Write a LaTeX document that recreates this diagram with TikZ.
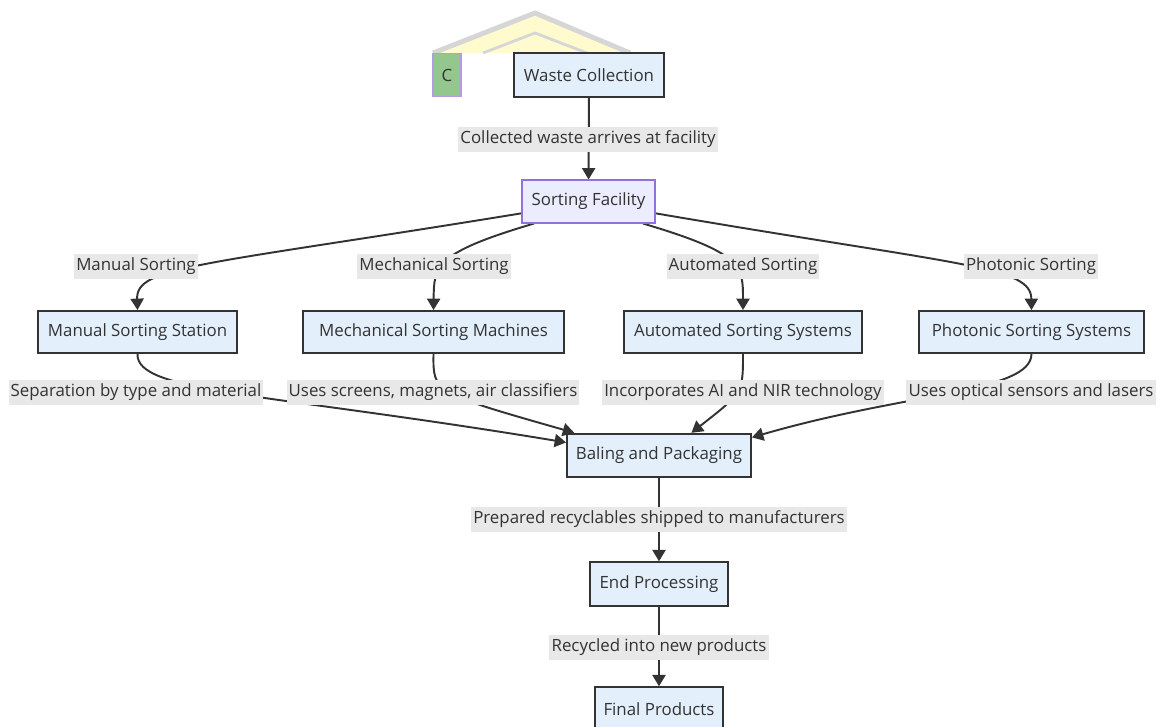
\documentclass[tikz,border=0pt]{standalone}
\usepackage{fontspec}
\setmainfont{Open Sans}
\usetikzlibrary{arrows.meta,backgrounds}
\definecolor{ink}{HTML}{333333}
\definecolor{boxblue}{HTML}{E4EFFC}
\definecolor{lavender}{HTML}{ECECFF}
\definecolor{purpleline}{HTML}{9370DB}
\definecolor{tagfill}{HTML}{93C78E}
\definecolor{lblgray}{HTML}{E8E8E8}
\definecolor{roofgray}{HTML}{D6D6D6}
\definecolor{roofyellow}{HTML}{FFFBCF}

\begin{document}
\begin{tikzpicture}[x=0.02cm, y=-0.02cm, >={Triangle[length=6.5pt,width=7.5pt]},
    box/.style={draw=ink, line width=1.1pt, fill=boxblue, minimum height=0.87cm, inner sep=0pt, text=ink, font=\fontsize{9.6}{11}\selectfont},
    facility/.style={box, draw=purpleline, line width=0.6pt, fill=lavender},
    tagbox/.style={box, draw=purpleline!70, line width=0.6pt, fill=tagfill, minimum width=0.56cm},
    lbl/.style={fill=lblgray, inner xsep=1.2pt, inner ysep=0pt, minimum height=0.5cm, text=ink, font=\fontsize{9.6}{11}\selectfont},
    flow/.style={draw=ink, line width=1.1pt}]
    \useasboundingbox (0,0) rectangle (1171,727);
    % Top row
    \node[tagbox] (tag) at (447,75) {C};
    \node[box, minimum width=3.0cm] (collect) at (589,75) {Waste Collection};
    \node[lbl] (arrive) at (588,139) {Collected waste arrives at facility};
    \node[facility, minimum width=2.66cm, minimum height=0.86cm] (facil) at (588.5,201.5) {Sorting Facility};
    % Sorting methods
    \node[lbl] (manual) at (136,266) {Manual Sorting};
    \node[lbl] (mech) at (434,266) {Mechanical Sorting};
    \node[lbl] (auto) at (743,266) {Automated Sorting};
    \node[lbl] (photo) at (1031,266) {Photonic Sorting};
    \node[box, minimum width=3.98cm, minimum height=0.84cm] (station) at (137.5,332) {Manual Sorting Station};
    \node[box, minimum width=5.22cm, minimum height=0.84cm] (machines) at (433.5,332) {Mechanical Sorting Machines};
    \node[box, minimum width=4.76cm, minimum height=0.84cm] (autosys) at (743,332) {Automated Sorting Systems};
    \node[box, minimum width=4.5cm, minimum height=0.84cm] (photosys) at (1031.5,332) {Photonic Sorting Systems};
    \node[lbl] (separate) at (136,392.5) {Separation by type and material};
    \node[lbl] (screens) at (433,392.5) {Uses screens, magnets, air classifiers};
    \node[lbl] (ainir) at (743,392.5) {Incorporates AI and NIR technology};
    \node[lbl] (optical) at (1031,392.5) {Uses optical sensors and lasers};
    % Bottom chain
    \node[box, minimum width=3.68cm] (baling) at (659,455.5) {Baling and Packaging};
    \node[lbl] (shipped) at (659,519) {Prepared recyclables shipped to manufacturers};
    \node[box, minimum width=2.76cm] (endproc) at (659,584) {End Processing};
    \node[lbl] (recycled) at (659,647) {Recycled into new products};
    \node[box, minimum width=2.56cm] (final) at (659,709) {Final Products};
    \begin{scope}[on background layer]
        % roof behind the top row
        \begin{scope}
            \clip (380,0) rectangle (700,53);
            \fill[roofyellow] (433,53) -- (535,13) -- (630,53) -- cycle;
            \draw[roofgray, line width=2.8pt, line join=round] (433,53) -- (535,13) -- (630,53);
            \draw[roofgray, line width=1.6pt, line join=round] (483,53) -- (535,33) -- (587,53);
        \end{scope}
        % Arrows
        \draw[flow, ->] (collect) -- (facil);
        \draw[flow, ->] (facil.190) .. controls (manual.east) and (manual.center) .. (station.north);
        \draw[flow, ->] (facil.202) .. controls (mech.north) and (mech.center) .. (machines.north);
        \draw[flow, ->] (facil.338) .. controls (auto.north) and (auto.center) .. (autosys.north);
        \draw[flow, ->] (facil.350) .. controls (photo.west) and (photo.center) .. (photosys.north);
        \draw[flow, ->] (station.south) .. controls (separate.center) and (separate.east) .. (baling.172);
        \draw[flow, ->] (machines.south) .. controls (screens.center) .. (baling.165);
        \draw[flow, ->] (autosys.south) .. controls (ainir.center) .. (baling.35);
        \draw[flow, ->] (photosys.south) .. controls (optical.center) and (optical.west) .. (baling.11);
        \draw[flow, ->] (baling) -- (endproc);
        \draw[flow, ->] (endproc) -- (final);
    \end{scope}
\end{tikzpicture}
\end{document}
